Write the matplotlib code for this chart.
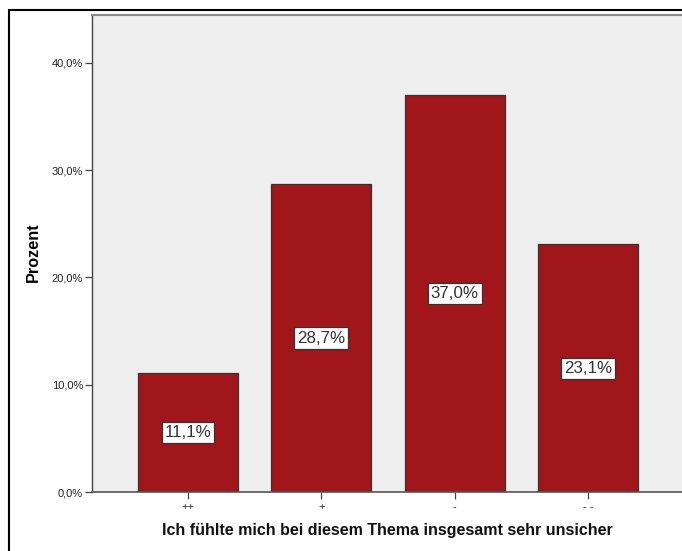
import matplotlib
matplotlib.use("Agg")
import matplotlib.pyplot as plt
from matplotlib.patches import Rectangle

categories = ["++", "+", "-", "- -"]
percent = [11.1, 28.7, 37.0, 23.1]
yticks = [0, 10, 20, 30, 40]

plt.rcParams['font.family'] = ['Liberation Sans', 'DejaVu Sans']

W, H = 682, 551
fig = plt.figure(figsize=(W / 100, H / 100), dpi=100)
ax = fig.add_axes([92 / W, 1 - 492 / H, (684 - 92) / W, (492 - 15) / H])
ax.set_facecolor("#eeeeee")

x = list(range(len(categories)))
ax.bar(x, percent, width=0.75, color="#a0161b", edgecolor="#333333", linewidth=0.9, zorder=2)

for xi, v in zip(x, percent):
    ax.text(xi, v / 2, f"{v:.1f}%".replace(".", ","), ha="center", va="center",
            fontsize=12.2, color="#333333", zorder=3,
            bbox=dict(boxstyle="square,pad=0.18", facecolor="white", edgecolor="#333333", linewidth=0.9))

ax.set_xlim(-0.72, 3.72)
ax.set_ylim(0, 44.45)
ax.set_yticks(yticks)
ax.set_yticklabels([f"{t:.1f}%".replace(".", ",") for t in yticks], fontsize=8, color="#222222")
ax.set_xticks(x)
ax.set_xticklabels(categories, fontsize=8, color="#222222")
ax.tick_params(axis="both", length=5, width=0.9, color="#444444")
ax.tick_params(axis="y", pad=1.5)
ax.tick_params(axis="x", pad=2.5)

ax.spines["top"].set_color("#8a8a8a")
ax.spines["top"].set_linewidth(1.5)
ax.spines["left"].set_color("#444444")
ax.spines["left"].set_linewidth(1.0)
ax.spines["bottom"].set_color("#555555")
ax.spines["bottom"].set_linewidth(1.2)
ax.spines["right"].set_visible(False)

ax.set_ylabel("Prozent", fontsize=11.7, fontweight="bold")
ax.yaxis.set_label_coords(41 / W, 1 - 252 / H, transform=fig.transFigure)
ax.set_xlabel("Ich fühlte mich bei diesem Thema insgesamt sehr unsicher", fontsize=11.5,
              fontweight="bold", color="#111111")
ax.xaxis.set_label_coords(387.5 / W, 1 - 523 / H, transform=fig.transFigure)

fig.patches.append(Rectangle((9 / W, -0.05), 1.0, 1 - 10 / H + 0.05, transform=fig.transFigure,
                             fill=False, edgecolor="black", linewidth=1.5, zorder=0))

fig.savefig("out.png", dpi=100)
